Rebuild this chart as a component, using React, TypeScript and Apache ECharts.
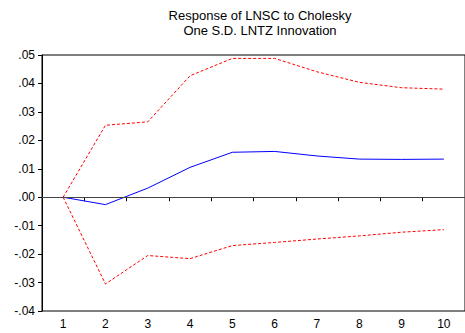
import React, { useEffect, useRef } from "react";
import * as echarts from "echarts";

const periods = ["1", "2", "3", "4", "5", "6", "7", "8", "9", "10"];
const response = [0, -0.0026, 0.0032, 0.0105, 0.0158, 0.0161, 0.0145, 0.0134, 0.0133, 0.0134];
const upperBand = [0, 0.0253, 0.0265, 0.0427, 0.0488, 0.0488, 0.0441, 0.0404, 0.0385, 0.038];
const lowerBand = [0, -0.0305, -0.0205, -0.0216, -0.017, -0.0159, -0.0147, -0.0136, -0.0123, -0.0114];
const yTickValues = [-0.04, -0.03, -0.02, -0.01, 0, 0.01, 0.02, 0.03, 0.04, 0.05];
const yTickLabels = ["-.04", "-.03", "-.02", "-.01", ".00", ".01", ".02", ".03", ".04", ".05"];
const titleLines = ["Response of LNSC to Cholesky", "One S.D. LNTZ Innovation"];

const FONT = "'Liberation Sans', Arial, sans-serif";

export default function App() {
  const ref = useRef<HTMLDivElement>(null);
  useEffect(() => {
    document.body.style.margin = "0";
    const chart = echarts.init(ref.current!, null, { renderer: "svg" });
    const labelFor = (v: number) => {
      const i = yTickValues.findIndex((t) => Math.abs(t - v) < 1e-9);
      return i >= 0 ? yTickLabels[i] : "";
    };
    chart.setOption({
      animation: false,
      backgroundColor: "#ffffff",
      title: {
        text: titleLines.join("\n"),
        left: 255,
        top: 3,
        textAlign: "center",
        textStyle: { fontFamily: FONT, fontSize: 13, fontWeight: "normal", color: "#000", lineHeight: 15 },
      },
      grid: {
        left: 42,
        right: -3,
        top: 55,
        bottom: 22,
        show: true,
        borderColor: "#000",
        borderWidth: 1,
        backgroundColor: "transparent",
      },
      xAxis: {
        type: "category",
        data: periods,
        boundaryGap: true,
        axisLine: { lineStyle: { color: "#000", width: 1 } },
        axisTick: { show: true, alignWithLabel: false, length: 4, lineStyle: { color: "#000" } },
        axisLabel: { fontFamily: FONT, fontSize: 12, color: "#000", margin: 7 },
        splitLine: { show: false },
      },
      yAxis: {
        type: "value",
        min: -0.04,
        max: 0.05,
        interval: 0.01,
        axisLine: { show: true, lineStyle: { color: "#000", width: 1 } },
        axisTick: { show: true, length: 4, lineStyle: { color: "#000" } },
        axisLabel: { fontFamily: FONT, fontSize: 12, color: "#000", margin: 7, formatter: labelFor },
        splitLine: { show: false },
      },
      series: [
        {
          type: "line",
          data: upperBand,
          symbol: "none",
          lineStyle: { color: "#ff0000", width: 1, type: [3, 2] },
          z: 3,
        },
        {
          type: "line",
          data: lowerBand,
          symbol: "none",
          lineStyle: { color: "#ff0000", width: 1, type: [3, 2] },
          z: 3,
        },
        {
          type: "line",
          data: response,
          symbol: "none",
          lineStyle: { color: "#0000ff", width: 1 },
          z: 4,
          markLine: {
            silent: true,
            symbol: "none",
            label: { show: false },
            lineStyle: { color: "#444", width: 1, type: "solid" },
            data: [{ yAxis: 0 }],
          },
        },
      ],
    });
    return () => chart.dispose();
  }, []);
  return <div ref={ref} style={{ width: 465, height: 333 }} />;
}
